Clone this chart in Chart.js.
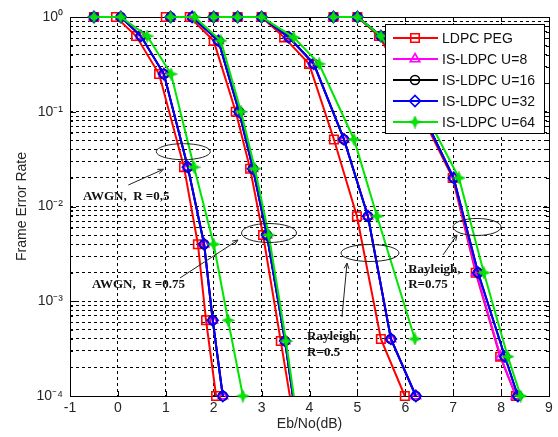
<!DOCTYPE html>
<html>
<head>
<meta charset="utf-8">
<script src="https://cdn.jsdelivr.net/npm/chart.js@4.4.0/dist/chart.umd.min.js"></script>
<style>
html, body { margin: 0; padding: 0; background: #fff; }
</style>
</head>
<body>
<canvas id="myChart" width="558" height="437"></canvas>
<script>
const seriesNames = ["LDPC PEG", "IS-LDPC U=8", "IS-LDPC U=16", "IS-LDPC U=32", "IS-LDPC U=64"];

// frame error rate rows, one list per scenario
const ferAwgn05 = [1, 1, 0.63, 0.25, 0.026, 0.004, 0.00063, 0.0001];
const ferAwgn075 = [1, 1, 0.56, 0.1, 0.025, 0.005, 0.00038, 0.00003];
const ferRay05 = [1, 1, 1, 0.61, 0.32, 0.051, 0.0079, 0.0004, 0.0001];
const ferRay075 = [1, 1, 0.63, 0.22, 0.02, 0.002, 0.00026, 0.0001];

// Eb/No (dB) per code: PEG, U=8, U=16, U=32, U=64
const ebAwgn05 = [
    [-0.5, -0.04, 0.38, 0.86, 1.38, 1.67, 1.84, 2.05],
    [-0.5, 0.06, 0.48, 0.96, 1.46, 1.8, 1.98, 2.19],
    [-0.5, 0.06, 0.48, 0.96, 1.46, 1.8, 1.98, 2.19],
    [-0.5, 0.06, 0.48, 0.96, 1.46, 1.8, 1.98, 2.19],
    [-0.5, 0.06, 0.61, 1.11, 1.59, 2.0, 2.3, 2.61],
];
const ebAwgn075 = [
    [1.0, 1.5, 2.0, 2.46, 2.76, 3.03, 3.4, 3.76],
    [1.1, 1.55, 2.1, 2.53, 2.82, 3.11, 3.49, 3.8],
    [1.1, 1.55, 2.1, 2.53, 2.82, 3.11, 3.49, 3.8],
    [1.1, 1.55, 2.1, 2.53, 2.82, 3.11, 3.49, 3.8],
    [1.1, 1.6, 2.15, 2.57, 2.86, 3.15, 3.51, 3.82],
];
const ebRay05 = [
    [2, 2.5, 3, 3.47, 3.99, 4.51, 4.99, 5.49, 5.99],
    [2, 2.5, 3, 3.57, 4.09, 4.72, 5.22, 5.7, 6.22],
    [2, 2.5, 3, 3.57, 4.09, 4.72, 5.22, 5.7, 6.22],
    [2, 2.5, 3, 3.57, 4.09, 4.72, 5.22, 5.7, 6.22],
    [2, 2.5, 3, 3.67, 4.2, 4.93, 5.41, 6.2],
];
const ebRay075 = [
    [4.5, 5.0, 5.45, 5.97, 6.99, 7.47, 7.98, 8.31],
    [4.5, 5.0, 5.49, 6.01, 7.01, 7.48, 7.99, 8.31],
    [4.5, 5.0, 5.49, 6.01, 7.01, 7.52, 8.08, 8.35],
    [4.5, 5.0, 5.49, 6.01, 7.01, 7.52, 8.08, 8.35],
    [4.5, 5.0, 5.49, 6.05, 7.12, 7.64, 8.14, 8.41],
];

const xTicks = [-1, 0, 1, 2, 3, 4, 5, 6, 7, 8, 9];
const yMajor = [1e-4, 1e-3, 1e-2, 1e-1, 1];
const yMajorLabels = ["10⁻⁴", "10⁻³", "10⁻²", "10⁻¹", "10⁰"];

// annotations (data coordinates)
const noteTexts = [
    { lines: ["AWGN,  R =0,5"], x: -0.73, y: 0.0126 },
    { lines: ["AWGN,  R =0.75"], x: -0.54, y: 0.00148 },
    { lines: ["Rayleigh,", "R=0.5"], x: 3.95, y: 0.00042, y2: 0.000284 },
    { lines: ["Rayleigh,", "R=0.75"], x: 6.06, y: 0.00214, y2: 0.00148 },
];
const noteEllipses = [
    { x: 1.365, y: 0.0379, rx: 27, ry: 8 },
    { x: 3.155, y: 0.00525, rx: 27.5, ry: 9.5 },
    { x: 5.263, y: 0.00323, rx: 29, ry: 8.5 },
    { x: 7.497, y: 0.00608, rx: 24, ry: 8.5 },
];
const noteArrows = [
    { x0: 0.218, y0: 0.01686, x1: 0.948, y1: 0.0247 },
    { x0: 1.296, y0: 0.00176, x1: 2.507, y1: 0.00443 },
    { x0: 4.678, y0: 0.000682, x1: 4.783, y1: 0.00253 },
    { x0: 6.787, y0: 0.00308, x1: 7.079, y1: 0.005 },
];

// green star marker
const star = document.createElement("canvas");
star.width = 13;
star.height = 13;
(function () {
    const c = star.getContext("2d");
    const cx = 6.5, cy = 6.5, ro = 6.3, ri = 2.6;
    c.beginPath();
    for (let i = 0; i < 8; i++) {
        const r = i % 2 === 0 ? ro : ri;
        const a = -Math.PI / 2 + i * Math.PI / 4;
        c.lineTo(cx + r * Math.cos(a), cy + r * Math.sin(a));
    }
    c.closePath();
    c.fillStyle = "#00e600";
    c.fill();
    c.strokeStyle = "#00c000";
    c.lineWidth = 0.6;
    c.stroke();
})();

const colors = ["#ff0000", "#ff00ff", "#000000", "#0000ff", "#00e600"];
const markers = ["rect", "triangle", "circle", "rectRot", star];
const radii = [6, 5.5, 4.5, 5.5, 6];

const scenarios = [
    { fer: ferAwgn05, eb: ebAwgn05, clip: 10 },
    { fer: ferAwgn075, eb: ebAwgn075, clip: { left: 10, top: 10, right: 10, bottom: 0 } },
    { fer: ferRay05, eb: ebRay05, clip: 10 },
    { fer: ferRay075, eb: ebRay075, clip: 10 },
];

const datasets = [];
// last code first so green is drawn on top
for (let k = seriesNames.length - 1; k >= 0; k--) {
    scenarios.forEach((sc) => {
        datasets.push({
            label: seriesNames[k],
            data: sc.eb[k].map((x, i) => ({ x: x, y: sc.fer[i] })),
            borderColor: colors[k],
            backgroundColor: "rgba(0,0,0,0)",
            borderWidth: 2,
            pointStyle: markers[k],
            pointRadius: radii[k],
            pointBorderColor: colors[k],
            pointBackgroundColor: "rgba(0,0,0,0)",
            pointBorderWidth: 1.6,
            tension: 0,
            clip: sc.clip,
        });
    });
}

const framePlugin = {
    id: "frame",
    beforeDatasetsDraw(chart) {
        const { ctx, chartArea: a, scales } = chart;
        ctx.save();
        ctx.strokeStyle = "#000";
        ctx.lineWidth = 1;
        ctx.beginPath();
        scales.y.ticks.forEach((t) => {
            const y = Math.round(scales.y.getPixelForValue(t.value)) + 0.5;
            const major = yMajor.some((m) => Math.abs(Math.log10(m) - Math.log10(t.value)) < 1e-6);
            const len = major ? 6 : 3;
            ctx.moveTo(a.left, y); ctx.lineTo(a.left + len, y);
            ctx.moveTo(a.right, y); ctx.lineTo(a.right - len, y);
        });
        xTicks.forEach((v) => {
            const x = Math.round(scales.x.getPixelForValue(v)) + 0.5;
            ctx.moveTo(x, a.bottom); ctx.lineTo(x, a.bottom - 5);
            ctx.moveTo(x, a.top); ctx.lineTo(x, a.top + 5);
        });
        ctx.stroke();
        ctx.strokeRect(Math.round(a.left) + 0.5, Math.round(a.top) + 0.5,
            Math.round(a.right - a.left), Math.round(a.bottom - a.top));
        ctx.restore();
    },
};

const notesPlugin = {
    id: "notes",
    afterDatasetsDraw(chart) {
        const { ctx, scales } = chart;
        const px = (v) => scales.x.getPixelForValue(v);
        const py = (v) => scales.y.getPixelForValue(v);
        ctx.save();
        ctx.strokeStyle = "#222";
        ctx.lineWidth = 1;
        noteEllipses.forEach((e) => {
            ctx.beginPath();
            ctx.ellipse(px(e.x), py(e.y), e.rx, e.ry, 0, 0, Math.PI * 2);
            ctx.stroke();
        });
        noteArrows.forEach((r) => {
            const x0 = px(r.x0), y0 = py(r.y0), x1 = px(r.x1), y1 = py(r.y1);
            const ang = Math.atan2(y1 - y0, x1 - x0);
            ctx.beginPath();
            ctx.moveTo(x0, y0);
            ctx.lineTo(x1, y1);
            ctx.moveTo(x1 - 6 * Math.cos(ang - 0.4), y1 - 6 * Math.sin(ang - 0.4));
            ctx.lineTo(x1, y1);
            ctx.lineTo(x1 - 6 * Math.cos(ang + 0.4), y1 - 6 * Math.sin(ang + 0.4));
            ctx.stroke();
        });
        ctx.fillStyle = "#111";
        ctx.font = 'bold 13px "Liberation Serif", "Times New Roman", serif';
        ctx.textAlign = "left";
        ctx.textBaseline = "middle";
        noteTexts.forEach((t) => {
            ctx.fillText(t.lines[0], px(t.x), py(t.y));
            if (t.lines[1]) ctx.fillText(t.lines[1], px(t.x), py(t.y2));
        });
        ctx.restore();
    },
};

const legendPlugin = {
    id: "boxLegend",
    afterDraw(chart) {
        const { ctx } = chart;
        const left = 385, top = 24, w = 159, h = 109;
        ctx.save();
        ctx.fillStyle = "#fff";
        ctx.fillRect(left, top, w, h);
        ctx.strokeStyle = "#000";
        ctx.lineWidth = 1;
        ctx.strokeRect(left + 0.5, top + 0.5, w, h);
        ctx.font = '14px "Liberation Sans", Arial, sans-serif';
        ctx.textBaseline = "middle";
        ctx.textAlign = "left";
        seriesNames.forEach((name, k) => {
            const y = top + 14 + k * 21;
            ctx.strokeStyle = colors[k];
            ctx.lineWidth = 2;
            ctx.beginPath();
            ctx.moveTo(left + 8, y);
            ctx.lineTo(left + 53, y);
            ctx.stroke();
            ctx.fillStyle = "rgba(0,0,0,0)";
            ctx.lineWidth = 1.6;
            Chart.helpers.drawPoint(ctx, {
                pointStyle: markers[k], radius: radii[k], rotation: 0, borderWidth: 1.6,
            }, left + 30, y);
            ctx.fillStyle = "#111";
            ctx.fillText(name, left + 57, y + 1);
        });
        ctx.restore();
    },
};

const axisFont = { family: '"Liberation Sans", Arial, sans-serif', size: 14 };

const config = {
    type: "line",
    data: { datasets: datasets },
    options: {
        responsive: false,
        animation: false,
        layout: { padding: { left: 0, top: 17, right: 9, bottom: 0 } },
        plugins: { legend: { display: false }, tooltip: { enabled: false } },
        scales: {
            x: {
                type: "linear",
                min: -1,
                max: 9,
                afterBuildTicks: (s) => { s.ticks = xTicks.map((v) => ({ value: v })); },
                afterFit: (s) => { s.height = 41; },
                ticks: { font: axisFont, color: "#262626", padding: 4, maxRotation: 0, autoSkip: false },
                grid: { color: "#000", lineWidth: 1, drawTicks: false },
                border: { display: false, dash: [3, 3] },
                title: { display: true, text: "Eb/No(dB)", font: axisFont, color: "#262626", padding: { top: 0, bottom: 4 } },
            },
            y: {
                type: "logarithmic",
                min: 1e-4,
                max: 1,
                afterBuildTicks: (s) => {
                    const t = [];
                    yMajor.forEach((m, i) => {
                        if (i === yMajor.length - 1) { t.push({ value: m }); return; }
                        for (let j = 1; j <= 9; j++) t.push({ value: m * j });
                    });
                    s.ticks = t;
                },
                afterFit: (s) => { s.width = 70; },
                ticks: {
                    font: axisFont,
                    color: "#262626",
                    padding: 7,
                    autoSkip: false,
                    callback: (v) => {
                        const i = yMajor.findIndex((m) => Math.abs(Math.log10(m) - Math.log10(v)) < 1e-6);
                        return i >= 0 ? yMajorLabels[i] : "";
                    },
                },
                grid: { color: "#000", lineWidth: 1, drawTicks: false },
                border: { display: false, dash: [3, 3] },
                title: { display: true, text: "Frame Error Rate", font: axisFont, color: "#262626", padding: { top: 14, bottom: 0 } },
            },
        },
    },
    plugins: [framePlugin, notesPlugin, legendPlugin],
};

new Chart(document.getElementById("myChart").getContext("2d"), config);
</script>
</body>
</html>
